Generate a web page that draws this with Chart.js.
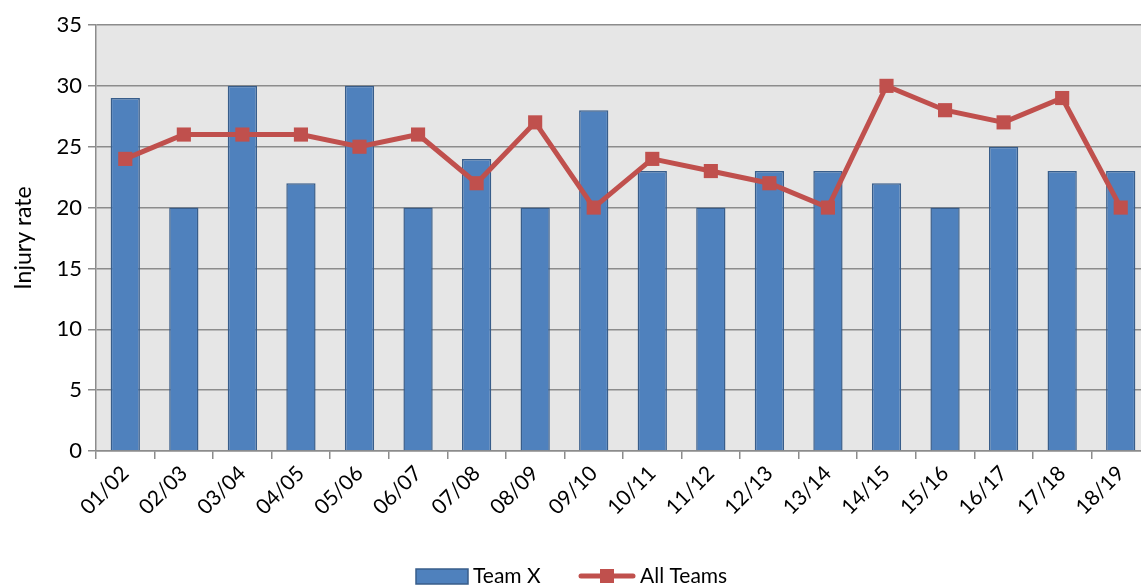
<!DOCTYPE html>
<html>
<head>
<meta charset="utf-8">
<script src="https://cdn.jsdelivr.net/npm/chart.js@4.4.1/dist/chart.umd.min.js"></script>
<style>
  html, body { margin: 0; padding: 0; background: #fff; overflow: hidden; }
  #wrap { width: 1160px; height: 586px; position: relative; }
</style>
</head>
<body>
<div id="wrap"><canvas id="injuryChart"></canvas></div>
<script>
// --- data ---
const seasons = ['01/02', '02/03', '03/04', '04/05', '05/06', '06/07', '07/08', '08/09', '09/10',
                 '10/11', '11/12', '12/13', '13/14', '14/15', '15/16', '16/17', '17/18', '18/19'];
const teamX = [29, 20, 30, 22, 30, 20, 24, 20, 28, 23, 20, 23, 23, 22, 20, 25, 23, 23];
const allTeams = [24, 26, 26, 26, 25, 26, 22, 27, 20, 24, 23, 22, 20, 30, 28, 27, 29, 20];
const yTicks = [0, 5, 10, 15, 20, 25, 30, 35];

const FONT = 'Lato, "Open Sans", sans-serif';
const BAR_FILL = '#4F81BD';
const BAR_EDGE = '#385D8A';
const LINE_RED = '#C0504D';

// grey plot background
const plotBg = {
    id: 'plotBg',
    beforeDraw(chart) {
        const { ctx, chartArea: a } = chart;
        ctx.save();
        ctx.fillStyle = '#E6E6E6';
        ctx.fillRect(a.left, a.top, a.right - a.left, a.bottom - a.top);
        ctx.restore();
    }
};

// legend drawn by hand so it looks like the Excel one
const bottomLegend = {
    id: 'bottomLegend',
    afterDraw(chart) {
        const ctx = chart.ctx;
        const y = 576;
        ctx.save();
        ctx.font = '21px ' + FONT;
        ctx.textBaseline = 'middle';

        // Team X box
        ctx.fillStyle = BAR_FILL;
        ctx.fillRect(416, 569, 52, 15);
        ctx.strokeStyle = BAR_EDGE;
        ctx.lineWidth = 1.5;
        ctx.strokeRect(416, 569, 52, 15);
        ctx.fillStyle = '#000';
        ctx.fillText('Team X', 473, y);

        // All Teams line + marker
        ctx.strokeStyle = LINE_RED;
        ctx.lineWidth = 5;
        ctx.lineCap = 'round';
        ctx.beginPath();
        ctx.moveTo(581, y);
        ctx.lineTo(633, y);
        ctx.stroke();
        ctx.fillStyle = LINE_RED;
        ctx.fillRect(600, y - 7, 14, 14);
        ctx.fillStyle = '#000';
        ctx.fillText('All Teams', 640, y);
        ctx.restore();
    }
};

document.addEventListener('DOMContentLoaded', () => {
    const ctx = document.getElementById('injuryChart').getContext('2d');

    new Chart(ctx, {
        data: {
            labels: seasons,
            datasets: [
                {
                    type: 'line',
                    label: 'All Teams',
                    data: allTeams,
                    borderColor: LINE_RED,
                    backgroundColor: LINE_RED,
                    borderWidth: 5,
                    pointStyle: 'rect',
                    pointRadius: 10,
                    pointBorderWidth: 0,
                    tension: 0,
                    order: 0
                },
                {
                    type: 'bar',
                    label: 'Team X',
                    data: teamX,
                    backgroundColor: BAR_FILL,
                    borderColor: BAR_EDGE,
                    borderWidth: 1.5,
                    barPercentage: 0.5,
                    categoryPercentage: 1.0,
                    order: 1
                }
            ]
        },
        options: {
            responsive: true,
            maintainAspectRatio: false,
            animation: false,
            layout: { padding: { top: 25, left: 0, right: 0, bottom: 0 } },
            scales: {
                x: {
                    offset: true,
                    grid: {
                        display: true,
                        drawOnChartArea: false,
                        drawTicks: true,
                        tickLength: 8,
                        color: '#8C8C8C',
                        lineWidth: 1.5,
                        offset: true
                    },
                    border: { color: '#8C8C8C', width: 1.5 },
                    ticks: {
                        color: '#000',
                        font: { family: FONT, size: 21 },
                        maxRotation: 45,
                        minRotation: 45,
                        autoSkip: false,
                        padding: 2
                    },
                    afterFit(scale) { scale.height = 135; }
                },
                y: {
                    min: 0,
                    max: 35,
                    afterBuildTicks(scale) { scale.ticks = yTicks.map(v => ({ value: v })); },
                    grid: {
                        color: '#8C8C8C',
                        lineWidth: 1.5,
                        tickLength: 8
                    },
                    border: { color: '#8C8C8C', width: 1.5 },
                    ticks: {
                        color: '#000',
                        font: { family: FONT, size: 22 },
                        padding: 6
                    },
                    title: {
                        display: true,
                        text: 'Injury rate',
                        color: '#000',
                        font: { family: FONT, size: 23 },
                        padding: { top: 10, bottom: 0 }
                    },
                    afterFit(scale) { scale.width = 96; }
                }
            },
            plugins: {
                legend: { display: false },
                tooltip: { enabled: false }
            }
        },
        plugins: [plotBg, bottomLegend]
    });
});
</script>
</body>
</html>
